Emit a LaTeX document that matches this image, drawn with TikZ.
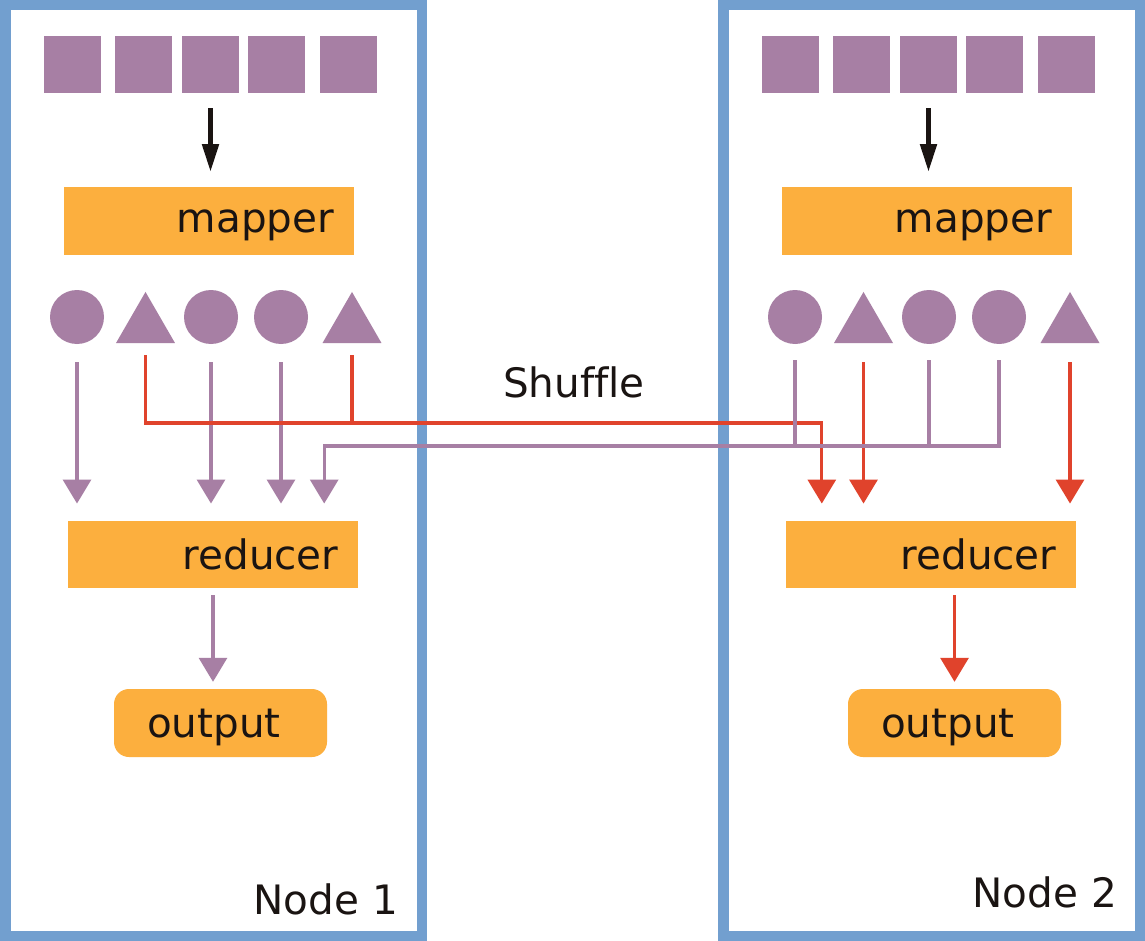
\documentclass[tikz,border=0pt]{standalone}
\usepackage{fontspec}
\setmainfont{DejaVu Sans}[Ligatures=NoCommon]
\usetikzlibrary{shapes.geometric,arrows.meta}
\definecolor{nodeblue}{HTML}{729FCF}
\definecolor{plum}{HTML}{A77FA4}
\definecolor{taskorange}{HTML}{FCAF3E}
\definecolor{shufred}{HTML}{E0432C}
\definecolor{ink}{HTML}{1A1412}
\begin{document}
\begin{tikzpicture}[x=1pt,y=-1pt]
    % Define basic node style
    \tikzset{
        record/.style={
            rectangle,
            fill=plum,
            minimum size=57pt,
            inner sep=0pt
        },
        keycirc/.style={circle, fill=plum, minimum size=54pt, inner sep=0pt},
        keytri/.style={regular polygon, regular polygon sides=3, fill=plum, minimum size=68.1pt, inner sep=0pt},
        block/.style={
            rectangle,
            fill=taskorange,
            minimum height=67.5pt,
            text width=251pt,
            inner xsep=19.5pt,
            align=right,
            text depth=0pt,
            text=ink,
            font=\fontsize{40.5}{48}\selectfont
        },
        result/.style={
            rectangle,
            rounded corners=15pt,
            fill=taskorange,
            minimum height=68pt,
            text width=147pt,
            inner xsep=33pt,
            align=left,
            text depth=0pt,
            text=ink,
            font=\fontsize{40.5}{48}\selectfont
        },
        bigtext/.style={font=\fontsize{40.5}{48}\selectfont, text=ink, inner sep=0pt},
        frame/.style={draw=nodeblue, line width=10.5pt},
        feed/.style={-{Triangle[width=16pt,length=28pt]}, draw=ink, line width=5pt},
        purline/.style={draw=plum, line width=3.2pt},
        redline/.style={draw=shufred, line width=3.2pt},
        purflow/.style={purline, -{Triangle[width=28pt,length=24pt]}},
        redflow/.style={redline, -{Triangle[width=28pt,length=24pt]}}
    }

    \fill[white] (0,0) rectangle (1145,941);
    \useasboundingbox (0,0) rectangle (1145,941);

    % Machine frames
    \draw[frame] (5.25,5.25) rectangle (421.75,935.75);
    \draw[frame] (723.25,5.25) rectangle (1139.75,935.75);
    \node[bigtext, anchor=base east] (node1) at (398,914) {Node 1};
    \node[bigtext, anchor=base east] (node2) at (1117,907) {Node 2};

    % Node 1: input records
    \node[record] (ls1) at (72,65) {};
    \node[record] (ls2) at (143,65) {};
    \node[record] (ls3) at (210.5,65) {};
    \node[record] (ls4) at (276,65) {};
    \node[record] (ls5) at (348.5,65) {};

    % Node 1: mapper, keys, reducer, output
    \node[block] (lmap) at (208.5,221) {mapper};
    \node[keycirc] (lc1) at (77,317) {};
    \node[keytri] (lt1) at (145.5,326) {};
    \node[keycirc] (lc2) at (211,317) {};
    \node[keycirc] (lc3) at (281,317) {};
    \node[keytri] (lt2) at (352,326) {};
    \node[block] (lred) at (213,554.5) {reducer};
    \node[result] (lout) at (220.5,723) {output};

    % Node 2: input records
    \node[record] (rs1) at (790,65) {};
    \node[record] (rs2) at (861,65) {};
    \node[record] (rs3) at (928.5,65) {};
    \node[record] (rs4) at (994,65) {};
    \node[record] (rs5) at (1066.5,65) {};

    % Node 2: mapper, keys, reducer, output
    \node[block] (rmap) at (926.5,221) {mapper};
    \node[keycirc] (rc1) at (795,317) {};
    \node[keytri] (rt1) at (863.5,326) {};
    \node[keycirc] (rc2) at (929,317) {};
    \node[keycirc] (rc3) at (999,317) {};
    \node[keytri] (rt2) at (1070,326) {};
    \node[block] (rred) at (931,554.5) {reducer};
    \node[result] (rout) at (954.5,723) {output};

    % Shuffle buses and entry points
    \node[bigtext, anchor=base] (shuffle) at (574,397) {Shuffle};
    \coordinate (redbus) at (0,423);
    \coordinate (purbus) at (0,446);
    \coordinate (lin4) at ([xshift=-34pt]lred.north east);
    \coordinate (rin1) at ([xshift=36pt]rred.north west);

    % Records to mappers
    \draw[feed, shorten <=14.5pt, shorten >=15pt] (ls3.south) -- (ls3.south |- lmap.north);
    \draw[feed, shorten <=14.5pt, shorten >=15pt] (rs3.south) -- (rs3.south |- rmap.north);

    % Local keys to reducers
    \draw[purflow, shorten <=18pt, shorten >=17pt] (lc1.south) -- (lc1.south |- lred.north);
    \draw[purflow, shorten <=18pt, shorten >=17pt] (lc2.south) -- (lc2.south |- lred.north);
    \draw[purflow, shorten <=18pt, shorten >=17pt] (lc3.south) -- (lc3.south |- lred.north);
    \draw[redflow, shorten <=19pt, shorten >=17pt] (rt1.south) -- (rt1.south |- rred.north);
    \draw[redflow, shorten <=19pt, shorten >=17pt] (rt2.south) -- (rt2.south |- rred.north);

    % Keys crossing between nodes
    \draw[redline, shorten <=12pt] (lt2.south) -- (lt2.south |- redbus);
    \draw[redflow, shorten <=12pt, shorten >=17pt] (lt1.south) |- (redbus -| rin1) -- (rin1);
    \draw[purline, shorten <=16pt] (rc1.south) -- (rc1.south |- purbus);
    \draw[purline, shorten <=16pt] (rc2.south) -- (rc2.south |- purbus);
    \draw[purflow, shorten <=16pt, shorten >=17pt] (rc3.south) |- (purbus -| lin4) -- (lin4);

    % Reducers to outputs
    \draw[purflow, shorten <=7pt, shorten >=7pt] (lred.south) -- (lred.south |- lout.north);
    \draw[redflow, shorten <=7pt, shorten >=7pt] (rout.north |- rred.south) -- (rout.north);
\end{tikzpicture}
\end{document}
